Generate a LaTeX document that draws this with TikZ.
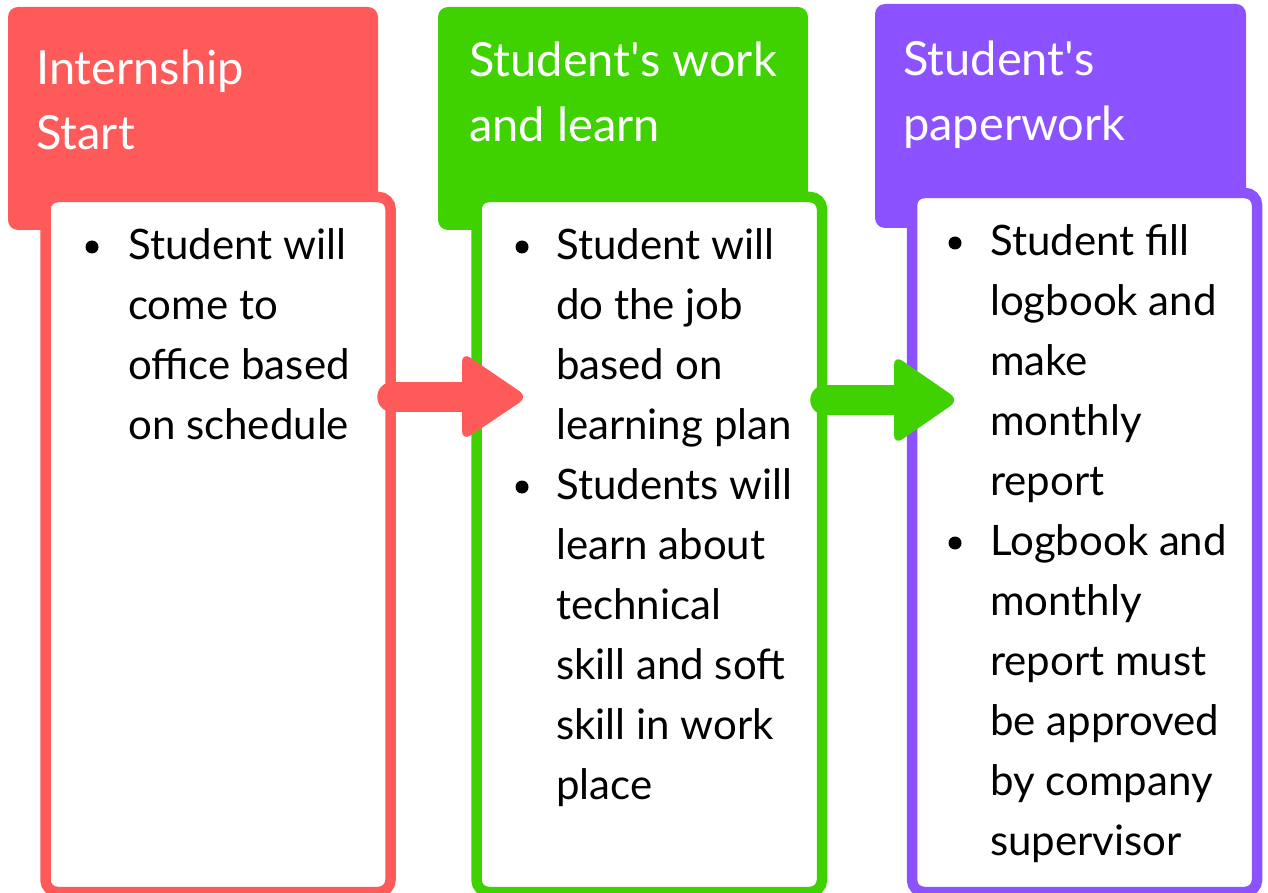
\documentclass[tikz,border=0pt]{standalone}
\usepackage{fontspec}
\setmainfont{Lato}
\definecolor{cred}{HTML}{FF5A5A}
\definecolor{cgreen}{HTML}{40D200}
\definecolor{cpurple}{HTML}{8C52FF}
\begin{document}
\begin{tikzpicture}[x=1pt,y=-1pt,
  headbox/.style={rectangle,rounded corners=10pt,minimum width=#1,inner sep=0pt,minimum height=223pt},
  bodybox/.style={rectangle,rounded corners=12pt,line width=10.5pt,fill=white,inner sep=0pt,minimum width=345pt},
  headtxt/.style={anchor=base west,inner sep=0pt,text=white,font=\fontsize{47}{56}\selectfont},
  bodytxt/.style={anchor=base west,inner sep=0pt,text=black,font=\fontsize{42}{50}\selectfont},
  dot/.style={circle,fill=black,inner sep=0pt,minimum size=13pt},
  shaft/.style={line width=30pt,line cap=round},
  ahead/.style={rounded corners=10pt}]
\useasboundingbox (0,0) rectangle (1268,893);
% headers
\node[headbox=370pt,fill=cred] (redhead) at (193,118.5) {};
\node[headbox=370pt,fill=cgreen] (greenhead) at (623,118.5) {};
\node[headbox=371pt,fill=cpurple,minimum height=224pt] (purplehead) at (1060.5,116) {};
% bodies
\node[bodybox,draw=cred,minimum height=695pt] (redbody) at (218,544.5) {};
\node[bodybox,draw=cgreen,minimum width=345.5pt,minimum height=695pt] (greenbody) at (649.25,544.5) {};
\node[bodybox,draw=cpurple,minimum height=699pt] (purplebody) at (1084.5,542.5) {};
% arrows
\coordinate (a1s) at (redbody.east |- 0,397);
\coordinate (a1e) at (528,397);
\coordinate (a2s) at (greenbody.east |- 0,400);
\coordinate (a2e) at (959,400);
\draw[shaft,cred] ([xshift=-3.5pt]a1s) -- ([xshift=-60pt]a1e);
\fill[ahead,cred] ([xshift=-66pt,yshift=-44pt]a1e) -- (a1e) -- ([xshift=-66pt,yshift=45pt]a1e) -- cycle;
\draw[shaft,cgreen] ([xshift=-2pt]a2s) -- ([xshift=-60pt]a2e);
\fill[ahead,cgreen] ([xshift=-65pt,yshift=-45pt]a2e) -- (a2e) -- ([xshift=-65pt,yshift=45pt]a2e) -- cycle;
% header texts
\node[headtxt] (rh1) at (36,85) {Internship};
\node[headtxt] (rh2) at (36,150) {Start};
\node[headtxt] (gh1) at (469,77) {Student\textquotesingle s work};
\node[headtxt] (gh2) at (469,142) {and learn};
\node[headtxt] (ph1) at (903,76) {Student\textquotesingle s};
\node[headtxt] (ph2) at (903,141) {paperwork};
% red body
\node[dot] (rd1) at (92,247) {};
\foreach \t [count=\i from 0] in {Student will,come to,office based,on schedule}
  \node[bodytxt] (rt\i) at (128,{259+60*\i}) {\t};
% green body
\node[dot] (gd1) at (522,247) {};
\node[dot] (gd2) at (522,487) {};
\foreach \t [count=\i from 0] in {Student will,do the job,based on,learning plan,Students will,learn about,technical,skill and soft,skill in work,place}
  \node[bodytxt] (gt\i) at (556,{259+60*\i}) {\t};
% purple body
\node[dot] (pd1) at (955,243) {};
\node[dot] (pd2) at (955,543) {};
\foreach \t [count=\i from 0] in {Student fill,logbook and,make,monthly,report,Logbook and,monthly,report must,be approved,by company,supervisor}
  \node[bodytxt] (pt\i) at (990,{255+60*\i}) {\t};
\end{tikzpicture}
\end{document}
